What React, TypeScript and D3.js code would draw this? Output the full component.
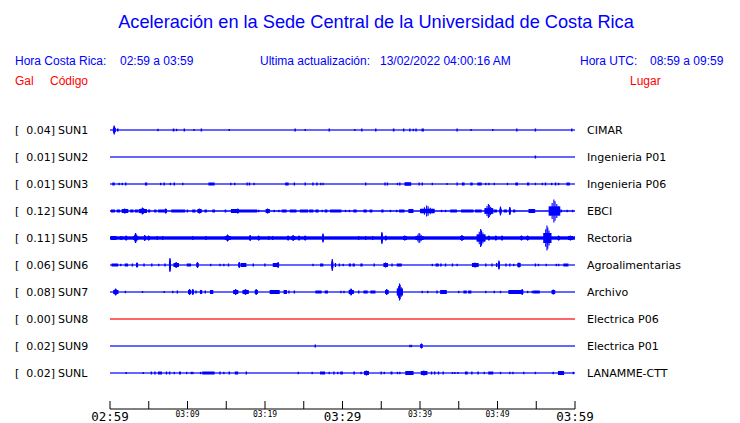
import React from 'react';
import * as d3 from 'd3';

type Burst = [number, number, number?]; // [minute, amplitude, duration in minutes]

const title = 'Aceleración en la Sede Central de la Universidad de Costa Rica';
const localRange = '02:59 a 03:59';
const utcRange = '08:59 a 09:59';
const updated = '13/02/2022 04:00:16 AM';

const codes = ['SUN1', 'SUN2', 'SUN3', 'SUN4', 'SUN5', 'SUN6', 'SUN7', 'SUN8', 'SUN9', 'SUNL'];
const places = [
  'CIMAR',
  'Ingenieria P01',
  'Ingenieria P06',
  'EBCI',
  'Rectoria',
  'Agroalimentarias',
  'Archivo',
  'Electrica P06',
  'Electrica P01',
  'LANAMME-CTT',
];
const peakGal = [0.04, 0.01, 0.01, 0.12, 0.11, 0.06, 0.08, 0.0, 0.02, 0.02];
const noiseLevel = [0.6, 0.6, 0.6, 0.75, 1.7, 0.6, 0.6, 0.6, 0.6, 0.6];

const tickMinutes = [0, 5, 10, 15, 20, 25, 30, 35, 40, 45, 50, 55, 60];
const labelMinutes = [0, 10, 20, 30, 40, 50, 60];
const tickLabels = ['02:59', '03:09', '03:19', '03:29', '03:39', '03:49', '03:59'];
const majorLabels = ['02:59', '03:29', '03:59'];

const sun1: Burst[] = [
  [0.4, 4.5, 0.3], [0.9, 1.5, 0.2], [6.1, 1.2], [8.1, 1.5, 0.2], [8.5, 1.2], [9.5, 1.5],
  [10.75, 1], [11.7, 1.5], [15.3, 1], [23.8, 1.5], [25.1, 1], [28.2, 1.5], [31.5, 1],
  [32.4, 1.5], [34.2, 1.5], [36.5, 1.5, 0.2], [37.8, 1.5], [38.6, 1.5], [39.05, 1.2],
  [39.4, 1.5], [40.2, 1.5, 0.3], [44.7, 1.5], [46.5, 1], [49.3, 1], [52.4, 1.5],
  [54.8, 1.5], [59.5, 1.5],
];
const sun2: Burst[] = [[54.8, 1.5]];
const sun3: Burst[] = [
  [0.3, 1.5, 0.3], [1.08, 1.2], [1.5, 1.2], [1.94, 1.5], [4.5, 1.5, 0.3], [6.45, 1.2],
  [6.9, 1.5], [7.7, 1.2], [8.2, 1.5], [9.3, 1.2], [12.7, 1.5, 0.8], [15.5, 1.2],
  [16.0, 1.2], [17.6, 1.5], [17.9, 1.5], [18.5, 1.2], [22.6, 1.5, 0.45], [23.7, 1.5],
  [25.1, 1.5, 0.15], [26.1, 1.5], [26.6, 1.5], [27.1, 1.2], [27.4, 1.2], [32.9, 1.5],
  [35.4, 1.5], [35.7, 1.5], [37.0, 1.2], [37.3, 1.5], [38.0, 1.8, 0.86], [39.8, 1.5],
  [40.2, 1.5], [41.5, 1.2], [43.4, 1], [44.7, 1.5], [45.4, 1.5, 0.35], [46.5, 1.5, 0.3],
  [47.4, 1.5, 0.55], [48.4, 1.2], [48.8, 1.2], [49.5, 1.2], [51.2, 1.2], [52.3, 1.5, 0.35],
  [53.8, 1.5, 0.3], [54.8, 1.2], [55.7, 1.2], [56.1, 1.5], [56.9, 1.2], [57.4, 1.5],
  [57.8, 1.2], [58.9, 1.5, 0.43],
];
const sun4: Burst[] = [
  [0.13, 1.5, 0.5], [0.86, 1.5, 0.43], [1.5, 2.5, 0.86], [2.6, 1.5, 0.43], [3.2, 1.5, 0.43],
  [3.7, 3.5, 1.07], [4.9, 1.5, 0.3], [5.7, 1.5, 0.3], [6.2, 1.5, 0.86], [7.1, 2.5],
  [7.9, 1.5, 1.8], [9.9, 1.5], [10.6, 1.5, 0.43], [11.3, 2.5, 0.5], [12.2, 1.5, 0.3],
  [13.2, 1.5, 0.35], [14.8, 1.5, 0.2], [15.6, 2, 0.95], [16.4, 2.5], [16.6, 1.5, 2.4],
  [19.1, 1.2], [20.1, 2.5, 0.5], [21.1, 1.2], [21.7, 1.2], [22.15, 1.5, 0.65],
  [23.2, 1.5, 0.86], [24.5, 1.5, 1.07], [25.7, 1.5, 0.55], [26.5, 1.5, 0.43], [27.3, 1.2],
  [27.7, 1.5, 0.35], [28.4, 1.5, 1.46], [30.3, 1.2], [30.8, 1.2], [31.4, 1.5, 0.43],
  [32.7, 1.5, 0.43], [33.5, 1.5, 0.35], [35.0, 1.5, 0.3], [36.1, 1.2], [36.9, 1.2],
  [37.3, 1.5, 0.7], [38.5, 2, 0.65], [40.0, 5.5, 1.9], [42.7, 1.2], [43.2, 1.2],
  [43.9, 1.5, 0.86], [45.3, 1.5, 1.6], [47.1, 1.5, 0.86], [48.3, 7, 1.16], [49.5, 1.5, 0.43],
  [50.3, 4.5], [50.8, 1.5, 0.43], [51.5, 4], [52.0, 1.5, 0.3], [54.0, 2, 0.86],
  [56.6, 11.5, 1.5], [58.1, 1.5, 0.2], [58.9, 1.2], [59.6, 1.2],
];
const sun5: Burst[] = [
  [0.13, 2, 0.7], [1.3, 1.8, 0.3], [2.0, 2.5], [3.0, 5, 0.65], [4.4, 3], [4.9, 2.5],
  [6.0, 2], [6.7, 2], [10.6, 2], [12.3, 2], [14.8, 3.5, 0.8], [18.0, 3], [19.1, 2.5],
  [20.4, 2], [20.9, 2], [22.9, 2.5], [23.4, 3, 0.5], [24.3, 2.5], [25.1, 2.5], [27.4, 4.5],
  [32.0, 2], [32.9, 2], [33.8, 2], [35.0, 6], [35.5, 2.5], [37.8, 2.5, 0.5],
  [39.4, 5, 1.07], [45.2, 3, 0.43], [47.3, 9, 1.16], [48.8, 2.5], [49.7, 2.5], [50.5, 2.5],
  [53.0, 2.5], [53.8, 2.5], [55.9, 12.5, 1.07], [57.8, 2.5], [59.1, 2.5, 0.65],
];
const sun6: Burst[] = [
  [0.2, 1.5, 0.86], [1.3, 1.2], [1.9, 1.5, 0.43], [2.8, 1.5], [3.4, 2.5], [4.3, 1.5],
  [5.3, 1.5], [6.2, 1.2], [7.0, 1.5], [7.65, 7], [8.2, 3, 0.7], [9.9, 1.5, 0.55],
  [11.2, 3], [12.9, 1.2], [14.1, 1.2], [14.6, 1.2], [15.2, 1.5], [16.6, 3],
  [16.9, 2, 0.7], [18.4, 1.5], [19.9, 1.5], [21.0, 2, 0.65], [21.6, 3], [26.1, 1.2],
  [27.1, 1.5, 0.43], [28.6, 6], [29.0, 2], [29.5, 1.5], [30.0, 1.2], [30.8, 1.5, 0.3],
  [31.3, 1.5, 0.3], [32.3, 1.5, 0.3], [34.0, 1.5], [35.3, 2.5, 0.55], [36.3, 1.5],
  [37.0, 1.5, 0.65], [41.5, 1.2], [42.0, 1.5, 0.43], [42.6, 1.5, 0.2], [43.2, 1.5],
  [44.1, 1.5], [44.7, 1.2], [46.7, 2.5, 0.86], [48.4, 1.5], [49.2, 1.5], [49.8, 2],
  [50.1, 4.5], [51.0, 1.5], [51.5, 1.5], [52.0, 1.2], [52.6, 2.5, 0.35], [54.8, 1.5],
  [55.2, 1.2], [56.2, 1.2], [57.5, 1.2], [57.8, 1.2], [58.5, 1.5, 0.65],
];
const sun7: Burst[] = [
  [0.43, 3.5, 0.65], [1.9, 1.2], [4.1, 1], [6.9, 1], [8.0, 1.2], [8.6, 1.5],
  [10.1, 3, 0.35], [10.6, 3], [11.0, 1.5], [11.6, 2, 0.3], [12.2, 1.5], [12.9, 2, 0.43],
  [15.9, 3, 0.65], [17.1, 3, 0.8], [18.7, 3, 0.35], [20.6, 2, 1.3], [22.4, 2, 0.43],
  [23.0, 1.5], [23.7, 1.5], [26.5, 1.5, 0.8], [27.7, 1.5, 0.43], [29.7, 1.2], [30.1, 1.2],
  [30.8, 3.5, 0.65], [32.0, 1.5], [32.7, 1.5, 0.55], [33.6, 1.5, 0.65], [35.5, 3, 0.43],
  [37.0, 8.5, 0.8], [40.2, 1.2], [40.9, 1.2], [42.1, 1.5], [42.6, 2, 0.86], [44.9, 1.2],
  [45.6, 1.5, 0.43], [46.2, 1.5, 0.43], [48.4, 1.2], [49.5, 1.2], [50.3, 1.2],
  [51.4, 2, 1.9], [53.1, 3], [53.8, 1.2], [54.4, 1.2], [54.6, 1.5, 0.86], [57.0, 2.5, 0.43],
];
const sun8: Burst[] = [];
const sun9: Burst[] = [[26.4, 1.5], [38.6, 1.2], [38.8, 1.2], [40.1, 2.5]];
const sunl: Burst[] = [
  [2.0, 1], [4.2, 1], [5.25, 1.5], [5.7, 1.5], [6.2, 1.5, 0.5], [7.2, 1.5], [7.6, 1.5],
  [8.2, 1.2], [8.9, 1.5, 0.25], [9.8, 1.2], [10.4, 1.2], [10.6, 1.2], [11.6, 1.2],
  [11.9, 1.5, 1.6], [14.1, 1.5], [14.6, 1.2], [15.3, 1.5], [16.1, 1.5, 0.43], [17.5, 1.5],
  [24.2, 1.2], [26.0, 1.2], [27.1, 1.5, 0.65], [28.2, 1.2], [28.8, 1.5], [29.3, 1.2],
  [29.7, 1.5, 0.35], [31.4, 1.5, 0.2], [32.3, 1.2], [32.8, 2.5, 0.6], [34.9, 1.5],
  [35.3, 1.2], [36.2, 1.5, 0.25], [37.0, 1.2], [37.3, 1.2], [38.1, 2, 1.07],
  [40.1, 2.5, 0.86], [41.4, 1.5], [41.8, 1.5], [42.3, 1.5], [42.9, 1.5], [44.1, 1],
  [44.4, 1], [44.8, 1], [45.8, 1.5, 0.35], [46.6, 1.5], [47.4, 1.5], [48.2, 1.2],
  [48.8, 1.5, 0.65], [50.3, 1.2], [51.5, 1.2], [51.9, 1.2], [53.3, 1.2], [54.8, 1.2],
  [57.1, 1.2], [57.8, 2, 0.8], [59.7, 1.2],
];
const bursts = [sun1, sun2, sun3, sun4, sun5, sun6, sun7, sun8, sun9, sunl];

const BLUE = '#0000ff';
const RED = '#ff0000';
const SANS = 'Liberation Sans, Arial, sans-serif';
const DEJA = 'DejaVu Sans, sans-serif';
const MONO = 'DejaVu Sans Mono, monospace';

const x = d3.scaleLinear().domain([0, 60]).range([110, 575]);
const y = d3.scalePoint<string>().domain(codes).range([130, 373]);
const amp = d3.scaleLinear().domain([0, 12]).range([0, 12]);

// spindle shape of a burst: where the spikes sit and how tall they are
const spikeAt = [0.15, 0.3, 0.45, 0.55, 0.7, 0.85];
const spikeH = [0.4, 0.7, 1, 0.85, 0.6, 0.35];

const Trace: React.FC<{ i: number }> = ({ i }) => {
  const cy = y(codes[i]) as number;
  const color = peakGal[i] === 0 ? RED : BLUE;
  const base = Math.max(1.2, 2 * amp(noiseLevel[i]));
  return (
    <g>
      <rect x={x(0)} y={cy - base / 2} width={x(60) - x(0)} height={base} fill={color} />
      {bursts[i].map(([m, a, w = 0], k) => {
        const x0 = x(m);
        const x1 = Math.max(x(m + w), x0 + 1.4);
        const body = a <= 2 ? amp(a) : Math.max(amp(2), amp(a) * 0.4);
        return (
          <g key={k}>
            <rect x={x0} y={cy - body} width={x1 - x0} height={2 * body} fill={color} />
            {a > 2 &&
              spikeAt.map((f, j) => {
                const sx = x0 + (x1 - x0) * f;
                const h = Math.max(body, amp(a) * spikeH[j]);
                return (
                  <line key={j} x1={sx} x2={sx} y1={cy - h} y2={cy + h} stroke={color} strokeWidth={1.1} />
                );
              })}
          </g>
        );
      })}
    </g>
  );
};

const App: React.FC = () => {
  const axisY = 409;
  return (
    <svg
      width={740}
      height={423}
      style={{ position: 'absolute', left: 0, top: 0, background: '#fff' }}
    >
      <text x={376} y={28} textAnchor="middle" fill={BLUE} fontFamily={SANS} fontSize={18.2}>
        {title}
      </text>

      <g fontFamily={SANS} fontSize={12} fill={BLUE}>
        <text x={15} y={65}>Hora Costa Rica:</text>
        <text x={120} y={65}>{localRange}</text>
        <text x={260} y={65}>Ultima actualización:</text>
        <text x={380} y={65}>{updated}</text>
        <text x={580} y={65}>Hora UTC:</text>
        <text x={650} y={65}>{utcRange}</text>
      </g>
      <g fontFamily={SANS} fontSize={12} fill={RED}>
        <text x={15} y={85}>Gal</text>
        <text x={50} y={85}>Código</text>
        <text x={630} y={85}>Lugar</text>
      </g>

      <g fontFamily={DEJA} fontSize={11} fill="#000">
        {codes.map((c, i) => {
          const cy = y(c) as number;
          return (
            <g key={c}>
              <text x={15} y={cy + 4}>[</text>
              <text x={55} y={cy + 4} textAnchor="end">{peakGal[i].toFixed(2)}]</text>
              <text x={58} y={cy + 4}>{c}</text>
              <text x={587} y={cy + 4}>{places[i]}</text>
            </g>
          );
        })}
      </g>

      {codes.map((c, i) => (
        <Trace key={c} i={i} />
      ))}

      <g>
        <line x1={x(0)} x2={x(60)} y1={axisY} y2={axisY} stroke="#000" strokeWidth={1} />
        {tickMinutes.map((m) => (
          <line key={m} x1={x(m)} x2={x(m)} y1={axisY} y2={axisY - 8} stroke="#000" strokeWidth={1} />
        ))}
        {labelMinutes.map((m, i) => {
          const major = majorLabels.includes(tickLabels[i]);
          return (
            <text
              key={m}
              x={x(m)}
              y={major ? 421 : 417}
              textAnchor="middle"
              fontFamily={MONO}
              fontSize={major ? 12.5 : 8}
              fill="#000"
            >
              {tickLabels[i]}
            </text>
          );
        })}
      </g>
    </svg>
  );
};

export default App;
